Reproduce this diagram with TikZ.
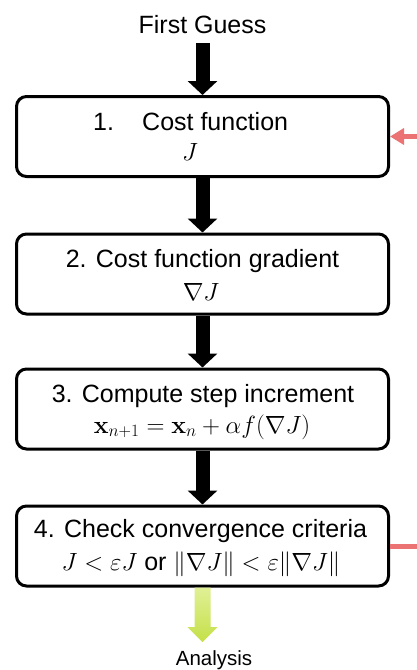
\documentclass[tikz,border=0pt]{standalone}
\usepackage[no-math]{fontspec}
\setmainfont{Liberation Sans}
\usetikzlibrary{arrows.meta,calc}
\definecolor{salmon}{RGB}{236,115,115}
\definecolor{limeA}{RGB}{224,240,150}
\definecolor{limeB}{RGB}{196,224,72}
\begin{document}
\begin{tikzpicture}[x=1pt,y=-1pt,
  stepbox/.style={draw=black,line width=3pt,rounded corners=10pt,
    minimum width=372pt,minimum height=80pt,inner sep=0pt},
  lbl/.style={anchor=base,inner sep=0pt,font=\fontsize{25}{30}\selectfont},
  flow/.style={line width=14pt,-{Triangle[width=29pt,length=14pt]}},
  feedback/.style={draw=salmon,line width=5pt}]
\useasboundingbox (0,0) rectangle (417,670);

% the four steps of the minimisation loop
\node[stepbox] (b1) at (202.5,136.5) {};
\node[stepbox] (b2) at (202.5,274) {};
\node[stepbox] (b3) at (202.5,409) {};
\node[stepbox] (b4) at (202.5,546) {};

% box texts
\node[lbl] (top) at (202.5,33) {First Guess};
\node[lbl,anchor=base west] (t1n) at (93,130) {1.};
\node[lbl,anchor=base west] (t1a) at (142,130) {Cost function};
\node[lbl] (t1b) at (190,160) {$J$};
\node[lbl] (t2a) at (202.5,267) {2. Cost function gradient};
\node[lbl] (t2b) at (201,300) {$\nabla J$};
\node[lbl] (t3a) at (203,402) {3. Compute step increment};
\node[lbl] (t3b) at (202,433) {$\mathbf{x}_{n+1}=\mathbf{x}_n+\alpha f(\nabla J)$};
\node[lbl] (t4a) at (200.5,537) {4. Check convergence criteria};
\node[lbl] (t4b) at (201,570) {$J<\varepsilon J$ or $\|\nabla J\|<\varepsilon\|\nabla J\|$};
\node[lbl,font=\fontsize{20.5}{24}\selectfont] (out) at (214,665) {Analysis};

% flow between the steps
\coordinate (fg) at (202.5,43);
\draw[flow] (fg) -- (b1.north);
\draw[flow] (b1.south) -- (b2.north);
\draw[flow] (b2.south) -- (b3.north);
\draw[flow] (b3.south) -- (b4.north);

% converged: hand over to the analysis
\coordinate (ga) at (202.5,642);
\shade[top color=limeA,bottom color=limeB]
  ($(b4.south)+(-8,0)$) -- ($(b4.south)+(8,0)$) -- ($(ga)+(8,-15)$)
  -- ($(ga)+(15,-15)$) -- (ga) -- ($(ga)+(-15,-15)$) -- ($(ga)+(-8,-15)$) -- cycle;

% iteration loop leaving and re-entering on the right
\coordinate (r1) at (420,136.5);
\coordinate (r2) at (420,546);
\draw[feedback,-{Triangle[width=16pt,length=14pt]}] (r1) -- (b1.east);
\draw[feedback] (b4.east) -- (r2);
\end{tikzpicture}
\end{document}
